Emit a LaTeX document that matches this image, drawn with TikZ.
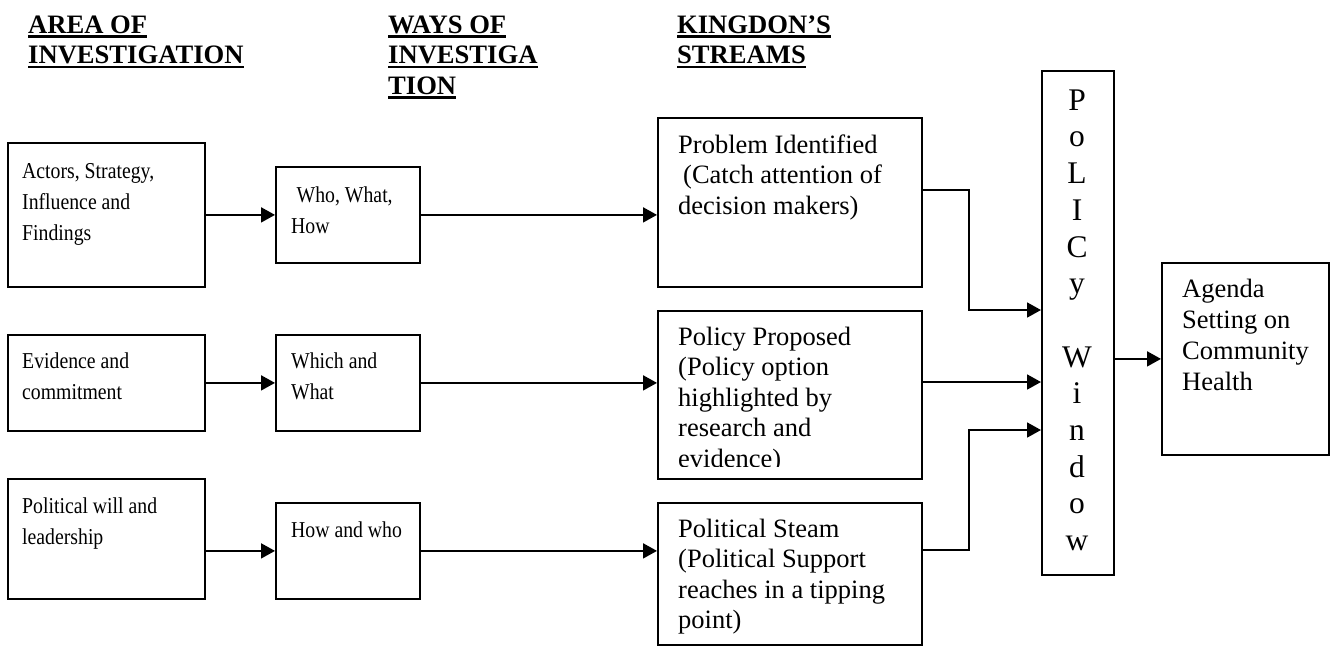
\documentclass[tikz,border=0pt]{standalone}
\usepackage{fontspec}
\setmainfont{Liberation Serif}
\newfontfamily\condserif[FakeStretch=0.87]{Liberation Serif}
\usetikzlibrary{arrows.meta}
\newcommand\hul[1]{\setbox0\hbox{#1}\rlap{\rule[-4.6pt]{\wd0}{2.4pt}}\box0}
\begin{document}
\begin{tikzpicture}[x=1pt,y=-1pt,
  box/.style={draw, line width=1.8pt, anchor=north west, inner sep=0pt},
  lbl/.style={anchor=north west, inner sep=0pt, align=left},
  txta/.style={lbl, font=\condserif\fontsize{22.7}{31}\selectfont, yshift=21.7pt},
  txtc/.style={lbl, font=\fontsize{26.5}{30.5}\selectfont, yshift=21.35pt},
  txtd/.style={lbl, font=\fontsize{26.5}{31}\selectfont, yshift=21.7pt},
  hdr/.style={lbl, font=\bfseries\fontsize{26.6}{30.5}\selectfont, yshift=21.35pt},
  vert/.style={anchor=north, inner sep=0pt, align=center, font=\fontsize{31.5}{36.7}\selectfont, yshift=25.69pt},
  arr/.style={line width=1.8pt, -{Triangle[length=14pt,width=15pt]}},
]
\useasboundingbox (0,0) rectangle (1334,646);

% headers
\node[hdr] (h1) at (28,33) {\strut\hul{AREA OF}\\\hul{INVESTIGATION}};
\node[hdr] (h2) at (388,33) {\strut\hul{WAYS OF}\\\hul{INVESTIGA}\\\hul{TION}};
\node[hdr] (h3) at (677,33) {\strut\hul{KINGDON’S}\\\hul{STREAMS}};

% boxes
\node[box, minimum width=197pt, minimum height=144pt] (A1) at (7,142) {};
\node[box, minimum width=144pt, minimum height=96pt]  (B1) at (275,166) {};
\node[box, minimum width=264pt, minimum height=169pt] (C1) at (657,117) {};
\node[box, minimum width=197pt, minimum height=96pt]  (A2) at (7,334) {};
\node[box, minimum width=144pt, minimum height=96pt]  (B2) at (275,334) {};
\node[box, minimum width=264pt, minimum height=168pt] (C2) at (657,310) {};
\node[box, minimum width=197pt, minimum height=120pt] (A3) at (7,478) {};
\node[box, minimum width=144pt, minimum height=96pt]  (B3) at (275,502) {};
\node[box, minimum width=264pt, minimum height=142pt] (C3) at (657,502) {};
\node[box, minimum width=72pt, minimum height=504pt]  (PW) at (1041,70) {};
\node[box, minimum width=167pt, minimum height=192pt] (AG) at (1161,262) {};

% texts
\node[txta] (tA1) at (22,178) {\strut Actors, Strategy,\\Influence and\\Findings};
\node[txta] (tB1) at (291,202) {\strut\hspace*{5.5pt}Who, What,\\How};
\node[txta] (tA2) at (22,368.5) {\strut Evidence and\\commitment};
\node[txta] (tB2) at (291,368.5) {\strut Which and\\What};
\node[txta] (tA3) at (22,513) {\strut Political will and\\leadership};
\node[txta] (tB3) at (291,537) {\strut How and who};

\node[txtc] (tC1) at (678,153) {\strut Problem Identified\\\hspace*{5pt}(Catch attention of\\decision makers)};
\begin{scope}
  \clip (657,310) rectangle (921,466);
  \node[txtc] (tC2) at (678,345) {\strut Policy Proposed\\(Policy option\\highlighted by\\research and\\evidence)};
\end{scope}
\node[txtc] (tC3) at (678,537) {\strut Political Steam\\(Political Support\\reaches in a tipping\\point)};
\node[txtd] (tAG) at (1182,297) {\strut Agenda\\Setting on\\Community\\Health};

\node[vert] (tPW) at (1077,110) {\strut P\\o\\L\\I\\C\\y\\[36.7pt]W\\i\\n\\d\\o\\w};

% connectors
\draw[arr] (A1.east) -- (B1.west);
\draw[arr] (A2.east) -- (B2.west);
\draw[arr] (A3.east |- B3.west) -- (B3.west);
\draw[arr] (B1.east) -- (B1.east -| C1.west);
\draw[arr] (B2.east) -- (B2.east -| C2.west);
\draw[arr] (B3.east) -- (B3.east -| C3.west);

\coordinate (k1) at (969,190);
\coordinate (k2) at (969,310);
\coordinate (k3) at (969,382);
\coordinate (k4) at (969,550);
\coordinate (k5) at (969,430);
\draw[arr] (k1 -| C1.east) -- (k1) -- (k2) -- (k2 -| PW.west);
\draw[arr] (k3 -| C2.east) -- (k3 -| PW.west);
\draw[arr] (k4 -| C3.east) -- (k4) -- (k5) -- (k5 -| PW.west);
\draw[arr] (PW.east |- AG.west) -- (AG.west);
\end{tikzpicture}
\end{document}
